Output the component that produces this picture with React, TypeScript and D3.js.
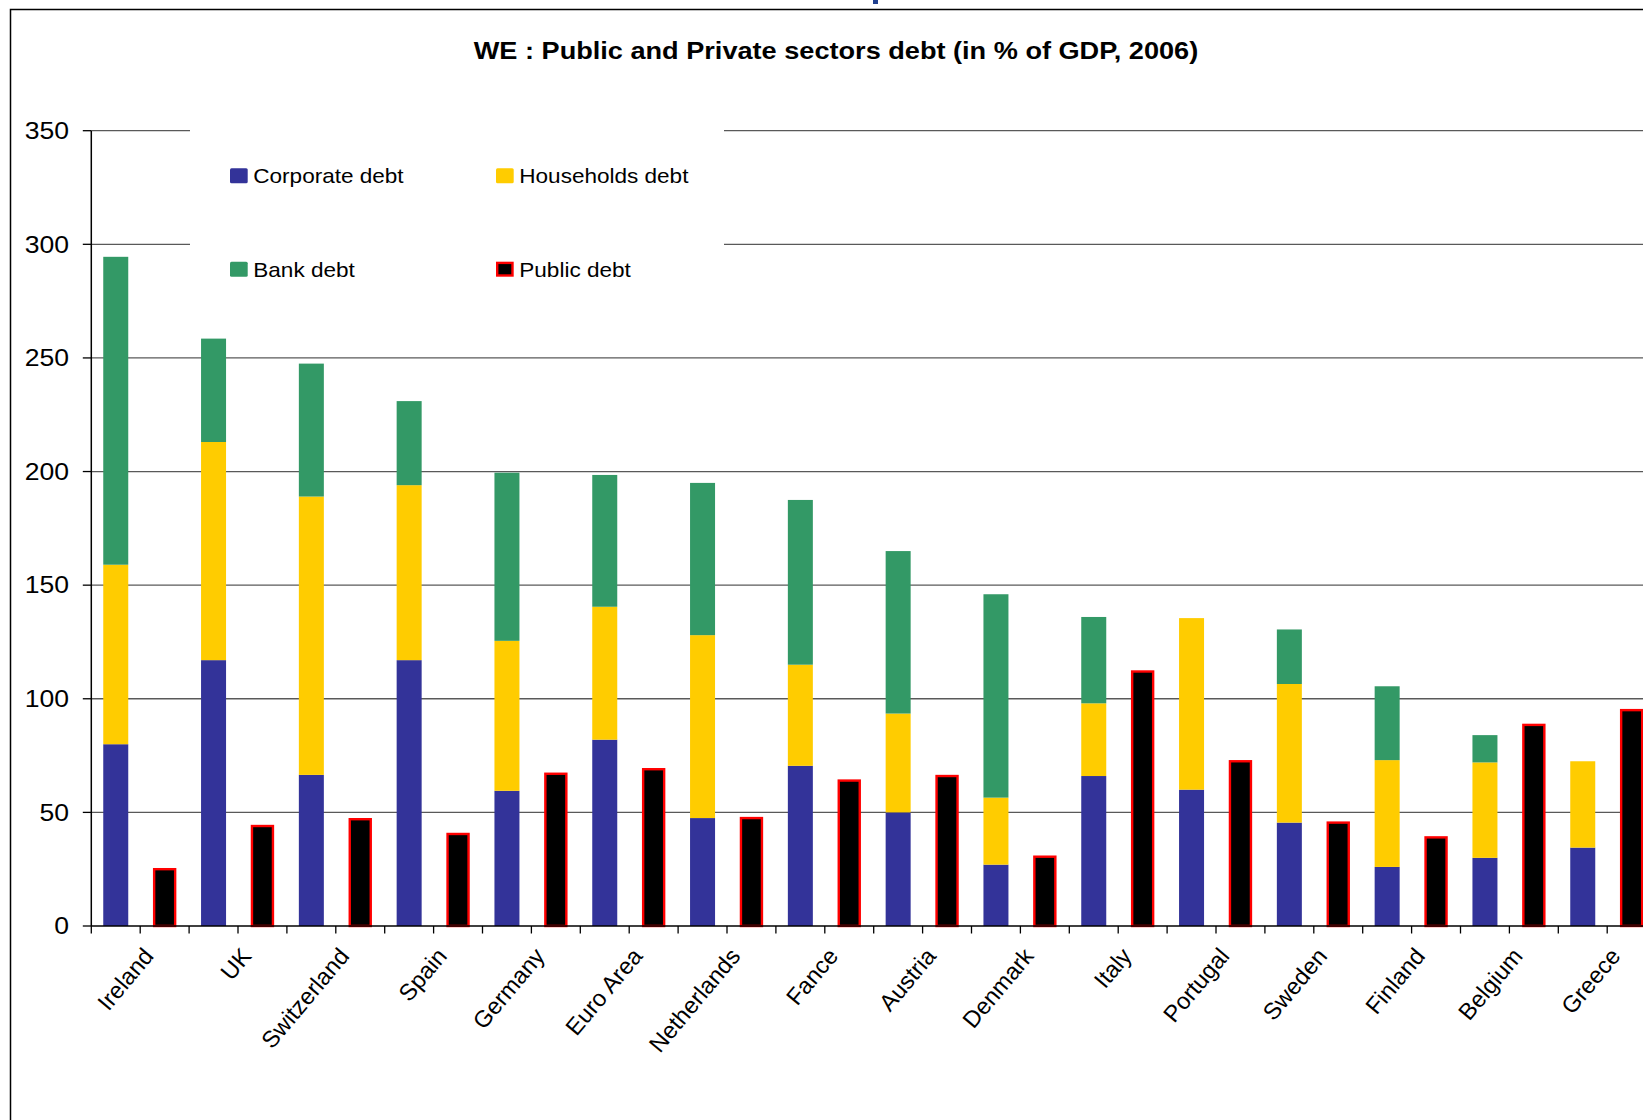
import React from "react";
import * as d3 from "d3";

const countries = ["Ireland", "UK", "Switzerland", "Spain", "Germany", "Euro Area", "Netherlands", "Fance", "Austria", "Denmark", "Italy", "Portugal", "Sweden", "Finland", "Belgium", "Greece"];
const corporateDebt = [80, 117, 66.5, 117, 59.5, 82, 47.5, 70.5, 50, 27, 66, 60, 45.5, 26, 30, 34.5];
const householdsDebt = [79, 96, 122.5, 77, 66, 58.5, 80.5, 44.5, 43.5, 29.5, 32, 75.5, 61, 47, 42, 38];
const bankDebt = [135.5, 45.5, 58.5, 37, 74, 58, 67, 72.5, 71.5, 89.5, 38, 0, 24, 32.5, 12, 0];
const publicDebt = [25, 44, 47, 40.5, 67, 69, 47.5, 64, 66, 30.5, 112, 72.5, 45.5, 39, 88.5, 95];
const yTicks = [0, 50, 100, 150, 200, 250, 300, 350];

const seriesKeys = ["corporate", "households", "bank"];
const seriesColors: Record<string, string> = { corporate: "#333399", households: "#FFCC00", bank: "#339966" };

const FONT = "'Liberation Sans', Arial, sans-serif";
const SX = 1.14;

export default function App() {
  const x0 = 91.3;
  const slot = 48.9;
  const slots = d3.range(countries.length * 2);
  const x = d3.scaleBand<number>().domain(slots).range([x0, x0 + slot * slots.length]).paddingInner(0).paddingOuter(0);
  const y = d3.scaleLinear().domain([0, 350]).range([926, 130.7]);

  const table = countries.map((c, i) => ({ country: c, corporate: corporateDebt[i], households: householdsDebt[i], bank: bankDebt[i] }));
  const stacked = d3.stack<any>().keys(seriesKeys)(table);

  const stackW = 25;
  const pubW = 21;
  const right = x0 + slot * slots.length;

  const legend = [
    { label: "Corporate debt", color: seriesColors.corporate, x: 230, y: 168.3, pub: false },
    { label: "Households debt", color: seriesColors.households, x: 496, y: 168.3, pub: false },
    { label: "Bank debt", color: seriesColors.bank, x: 230, y: 261.7, pub: false },
    { label: "Public debt", color: "#000", x: 496, y: 261.7, pub: true },
  ];

  return (
    <svg width={1643} height={1120} style={{ position: "absolute", left: 0, top: 0, background: "#fff" }} fontFamily={FONT}>
      <rect x={0} y={0} width={1643} height={1120} fill="#fff" />
      {/* frame */}
      <rect x={10.5} y={9.5} width={1800} height={1300} fill="none" stroke="#000" strokeWidth={1.5} />
      <rect x={873} y={0} width={5} height={4} fill="#1f3f8f" />
      {/* title */}
      <text transform={`translate(836,58.5) scale(1.18,1)`} textAnchor="middle" fontSize={23} fontWeight="bold" fill="#000">
        WE : Public and Private sectors debt (in % of GDP, 2006)
      </text>
      {/* gridlines */}
      {yTicks.filter(t => t > 0).map(t => (
        <line key={t} x1={x0} x2={right} y1={y(t)} y2={y(t)} stroke="#000" strokeOpacity={0.65} strokeWidth={1.3} />
      ))}
      {/* legend box (white) */}
      <rect x={190} y={118} width={534} height={180} fill="#fff" />
      {/* y axis */}
      <line x1={x0} x2={x0} y1={y(350)} y2={y(0)} stroke="#000" strokeWidth={1.5} />
      {yTicks.map(t => (
        <g key={t}>
          <line x1={x0 - 8.5} x2={x0} y1={y(t)} y2={y(t)} stroke="#000" strokeWidth={1.3} />
          <text transform={`translate(69,${y(t) + 8.3}) scale(${SX},1)`} textAnchor="end" fontSize={23.3} fill="#000">{t}</text>
        </g>
      ))}
      {/* bars */}
      {stacked.map(s => (
        <g key={s.key} fill={seriesColors[s.key]}>
          {s.map((d, i) => (
            d[1] - d[0] > 0 ? (
              <rect key={i} x={(x(2 * i) as number) + (slot - stackW) / 2} width={stackW} y={y(d[1])} height={y(d[0]) - y(d[1])} />
            ) : null
          ))}
        </g>
      ))}
      {publicDebt.map((v, i) => (
        <rect key={i} x={(x(2 * i + 1) as number) + (slot - pubW) / 2} width={pubW} y={y(v)} height={y(0) - y(v)} fill="#000" stroke="#FF0000" strokeWidth={2.4} />
      ))}
      {/* x axis */}
      <line x1={x0} x2={right} y1={y(0)} y2={y(0)} stroke="#000" strokeWidth={1.5} />
      {d3.range(slots.length + 1).map(k => (
        <line key={k} x1={x0 + k * slot} x2={x0 + k * slot} y1={y(0)} y2={y(0) + 7.5} stroke="#000" strokeWidth={1.3} />
      ))}
      {countries.map((c, i) => {
        const cx = x0 + (2 * i + 1) * slot;
        return (
          <text key={c} transform={`translate(${cx + 1},${945.5}) rotate(-50)`} textAnchor="end" fontSize={23.5} fill="#000" dy="0.75em">
            {c}
          </text>
        );
      })}
      {/* legend */}
      {legend.map(l => (
        <g key={l.label}>
          {l.pub ? (
            <rect x={l.x + 1.2} y={l.y + 1.2} width={15.3} height={12.6} fill="#000" stroke="#FF0000" strokeWidth={2.4} />
          ) : (
            <rect x={l.x} y={l.y} width={17.7} height={15} rx={1.5} fill={l.color} />
          )}
          <text transform={`translate(${l.x + 23.3},${l.y + 15}) scale(1.1,1)`} fontSize={20.5} fill="#000">{l.label}</text>
        </g>
      ))}
    </svg>
  );
}
